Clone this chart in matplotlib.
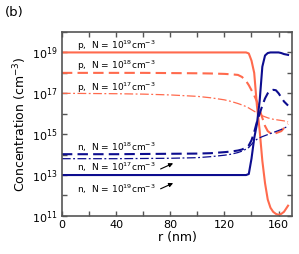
import numpy as np
import matplotlib
matplotlib.use('Agg')
import matplotlib.pyplot as plt
from matplotlib.ticker import FixedLocator, MultipleLocator, NullFormatter

# radius grid (nm) and log10 of concentration (cm^-3)
r = [0, 20, 40, 60, 80, 100, 110, 120, 125, 130, 133, 136, 138, 140, 142,
     144, 146, 148, 150, 152, 154, 156, 158, 160, 162, 164, 167]

p19 = [19.0, 19.0, 19.0, 19.0, 19.0, 19.0, 19.0, 19.0, 19.0, 19.0, 19.0, 19.0,
       18.95, 18.6, 18.0, 16.4, 15.2, 13.7, 12.6, 11.8, 11.4, 11.2, 11.1,
       11.05, 11.1, 11.2, 11.5]
p18 = [18.0, 18.0, 18.0, 18.0, 17.99, 17.98, 17.97, 17.95, 17.93, 17.9, 17.8,
       17.6, 17.4, 17.15, 16.9, 16.6, 16.2, 15.8, 15.4, 15.15, 15.05, 15.0,
       15.05, 15.1, 15.15, 15.3, 15.5]
p17 = [17.0, 16.99, 16.98, 16.96, 16.92, 16.85, 16.78, 16.68, 16.6, 16.5,
       16.43, 16.35, 16.28, 16.2, 16.12, 16.05, 15.97, 15.9, 15.85, 15.8,
       15.76, 15.73, 15.71, 15.69, 15.67, 15.65, 15.6]
n19 = [13.0, 13.0, 13.0, 13.0, 13.0, 13.0, 13.0, 13.0, 13.0, 13.0, 13.0, 13.0,
       13.05, 13.8, 14.8, 15.5, 16.6, 18.3, 18.85, 18.97, 19.0, 19.0, 19.0,
       19.0, 18.97, 18.92, 18.88]
n18 = [14.02, 14.02, 14.02, 14.03, 14.04, 14.05, 14.07, 14.12, 14.15, 14.2,
       14.25, 14.35, 14.45, 14.7, 15.1, 15.6, 16.0, 16.4, 16.75, 17.0, 17.13,
       17.17, 17.15, 17.0, 16.8, 16.6, 16.4]
n17 = [13.8, 13.8, 13.8, 13.81, 13.82, 13.85, 13.9, 13.97, 14.02, 14.1,
       14.17, 14.27, 14.35, 14.5, 14.65, 14.75, 14.82, 14.88, 14.93, 14.98,
       15.03, 15.08, 15.13, 15.18, 15.23, 15.3, 15.38]

red = '#ff6a4d'
blue = '#0d0d8f'

fig = plt.figure(figsize=(2.99, 2.54), dpi=100)
ax = fig.add_axes([0.207, 0.150, 0.770, 0.724])

ax.plot(r, np.power(10.0, p19), color=red, lw=1.5, ls='-')
ax.plot(r, np.power(10.0, p18), color=red, lw=1.5, ls=(0, (5, 2.5)))
ax.plot(r, np.power(10.0, p17), color=red, lw=0.9, ls=(0, (7, 2, 1.5, 2)))
ax.plot(r, np.power(10.0, n19), color=blue, lw=1.5, ls='-')
ax.plot(r, np.power(10.0, n18), color=blue, lw=1.5, ls=(0, (5, 2.5)))
ax.plot(r, np.power(10.0, n17), color=blue, lw=0.9, ls=(0, (7, 2, 1.5, 2)))

ax.set_yscale('log')
ax.set_xlim(0, 170)
ax.set_ylim(1e11, 1e20)
ax.yaxis.set_major_locator(FixedLocator([1e11, 1e13, 1e15, 1e17, 1e19]))
ax.yaxis.set_minor_locator(FixedLocator([10.0 ** k for k in range(11, 21)]))
ax.yaxis.set_minor_formatter(NullFormatter())
ax.xaxis.set_major_locator(MultipleLocator(40))
ax.xaxis.set_minor_locator(MultipleLocator(20))

for s in ax.spines.values():
    s.set_color('#555555')
    s.set_linewidth(1.2)
ax.tick_params(which='both', direction='in', top=True, right=True,
               color='#555555', labelsize=8, pad=3)
ax.tick_params(which='major', length=3.5, width=1)
ax.tick_params(which='minor', length=3.5, width=1)

ax.set_xlabel('r (nm)', fontsize=9, labelpad=1)
ax.set_ylabel('Concentration (cm$^{-3}$)', fontsize=9, labelpad=2)

fs = 6.5
ax.text(11, 10 ** 19.15, 'p,  N = 10$^{19}$cm$^{-3}$', fontsize=fs, va='baseline')
ax.text(11, 10 ** 18.17, 'p,  N = 10$^{18}$cm$^{-3}$', fontsize=fs, va='baseline')
ax.text(11, 10 ** 17.10, 'p,  N = 10$^{17}$cm$^{-3}$', fontsize=fs, va='baseline')
ax.text(11, 10 ** 14.17, 'n,  N = 10$^{18}$cm$^{-3}$', fontsize=fs, va='baseline')
ax.text(11, 10 ** 13.20, 'n,  N = 10$^{17}$cm$^{-3}$', fontsize=fs, va='baseline')
ax.text(11, 10 ** 12.12, 'n,  N = 10$^{19}$cm$^{-3}$', fontsize=fs, va='baseline')

arrow = dict(arrowstyle='-|>', color='black', lw=0.8, mutation_scale=6)
ax.annotate('', xy=(84, 10 ** 13.63), xytext=(71, 10 ** 13.24), arrowprops=arrow)
ax.annotate('', xy=(84, 10 ** 12.66), xytext=(71, 10 ** 12.27), arrowprops=arrow)

fig.text(0.017, 0.95, '(b)', fontsize=9.5, va='center')

fig.savefig('out.png', dpi=100)
